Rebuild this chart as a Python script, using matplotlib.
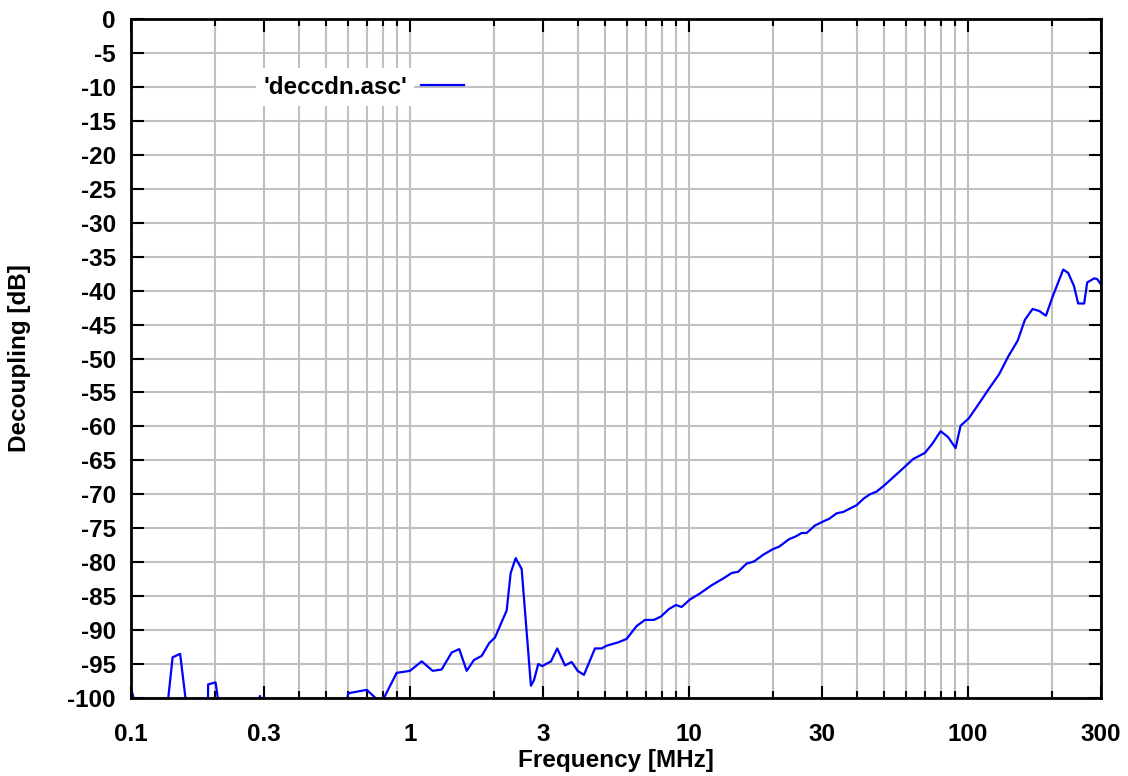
import matplotlib
matplotlib.use("Agg")
import matplotlib.pyplot as plt
from matplotlib.ticker import FixedLocator, NullFormatter, FixedFormatter

plt.rcParams['font.family'] = ['Liberation Sans', 'DejaVu Sans']

freq_mhz = [0.1, 0.108, 0.117, 0.132, 0.141, 0.150, 0.160, 0.174, 0.188, 0.189,
            0.201, 0.208, 0.246, 0.281, 0.290, 0.300, 0.403, 0.580, 0.601, 0.700,
            0.762, 0.804, 0.896, 1.0, 1.102, 1.206, 1.299, 1.411, 1.502, 1.597,
            1.696, 1.807, 1.924, 2.017, 2.132, 2.222, 2.296, 2.393, 2.514, 2.714,
            2.782, 2.883, 2.980, 3.203, 3.373, 3.594, 3.798, 3.991, 4.204, 4.604,
            4.865, 5.070, 5.580, 5.979, 6.494, 6.957, 7.492, 7.935, 8.479, 8.982,
            9.415, 10.08, 10.95, 12.06, 13.27, 14.22, 15.02, 16.10, 17.10, 18.47,
            19.95, 21.07, 22.88, 24.18, 25.35, 26.42, 28.29, 30.30, 31.84, 33.84,
            35.73, 37.77, 39.92, 42.39, 44.54, 47.08, 50.42, 57.06, 63.68, 70.15,
            74.73, 79.85, 85.01, 90.34, 94.14, 100.8, 108.9, 118.3, 129.5, 139.5,
            150.7, 160.1, 170.6, 180.1, 190.4, 201.2, 219.6, 228.8, 239.9, 248.5,
            261.1, 267.7, 283.6, 290.7, 300.0]
decoupling_db = [-98.5, -104, -110, -105, -94.0, -93.5, -103, -110, -110, -98.0,
                 -97.7, -102, -110, -102, -99.7, -102, -110, -103, -99.3, -98.8,
                 -100.2, -100.1, -96.3, -96.0, -94.6, -96.0, -95.8, -93.3, -92.8, -96.0,
                 -94.4, -93.8, -91.9, -91.1, -88.8, -87.1, -81.6, -79.4, -81.0, -98.2,
                 -97.4, -95.0, -95.3, -94.6, -92.7, -95.2, -94.7, -96.0, -96.6, -92.7,
                 -92.7, -92.3, -91.8, -91.3, -89.4, -88.5, -88.5, -88.0, -86.9, -86.3,
                 -86.6, -85.5, -84.6, -83.4, -82.4, -81.6, -81.4, -80.2, -79.9, -78.9,
                 -78.1, -77.7, -76.6, -76.2, -75.7, -75.7, -74.6, -74.0, -73.6, -72.8,
                 -72.6, -72.1, -71.6, -70.6, -70.0, -69.6, -68.6, -66.6, -64.8, -63.9,
                 -62.5, -60.7, -61.6, -63.2, -59.9, -58.8, -56.8, -54.6, -52.3, -49.7,
                 -47.4, -44.3, -42.7, -43.0, -43.7, -40.9, -36.9, -37.4, -39.3, -41.9,
                 -41.9, -38.8, -38.2, -38.3, -39.1]

series_label = "'deccdn.asc'"
x_major = [0.1, 0.3, 1, 3, 10, 30, 100, 300]
x_major_labels = ['0.1', '0.3', '1', '3', '10', '30', '100', '300']
y_ticks = list(range(-100, 1, 5))

FS = 17.5

fig = plt.figure(figsize=(11.28, 7.76), dpi=100)
ax = fig.add_axes([131/1128, 1-698/776, (1101-131)/1128, (698-19)/776])

ax.set_xscale('log')
ax.set_xlim(0.1, 300)
ax.set_ylim(-100, 0)

grid_x = []
for dec in [0.1, 1, 10, 100]:
    for m in range(1, 10):
        v = round(dec * m, 6)
        if 0.1 <= v <= 300:
            grid_x.append(v)
minor_x = [v for v in grid_x if all(abs(v - M) > 1e-9 for M in x_major)]

ax.xaxis.set_major_locator(FixedLocator(x_major))
ax.xaxis.set_major_formatter(FixedFormatter(x_major_labels))
ax.xaxis.set_minor_locator(FixedLocator(minor_x))
ax.xaxis.set_minor_formatter(NullFormatter())
ax.yaxis.set_major_locator(FixedLocator(y_ticks))
ax.set_yticklabels([str(v) for v in y_ticks])

ax.grid(True, which='both', axis='x', color='#c0c0c0', linewidth=1.5)
ax.grid(True, which='major', axis='y', color='#c0c0c0', linewidth=1.5)
ax.set_axisbelow(True)

ax.tick_params(axis='both', which='major', direction='in', length=9, width=1.5,
               top=True, right=True, labelsize=FS)
ax.tick_params(axis='y', which='major', pad=11)
ax.tick_params(axis='x', which='major', pad=18)
ax.tick_params(axis='x', which='minor', direction='in', length=5, width=1.5,
               top=True, bottom=True)
for lbl in ax.get_xticklabels() + ax.get_yticklabels():
    lbl.set_fontweight('bold')

for s in ax.spines.values():
    s.set_linewidth(2)
    s.set_color('black')

ax.plot(freq_mhz, decoupling_db, color='#0000ff', linewidth=1.6, label=series_label)

ax.set_xlabel('Frequency [MHz]', fontsize=FS, fontweight='bold', labelpad=2)
ax.set_ylabel('Decoupling [dB]', fontsize=FS, fontweight='bold', labelpad=26)

leg = ax.legend(loc='center', bbox_to_anchor=(363.5/1128, 1-87/776),
                bbox_transform=fig.transFigure, frameon=False, markerfirst=False,
                handlelength=1.75, handletextpad=0.6, borderpad=0,
                prop={'size': FS, 'weight': 'bold'})
for t in leg.get_texts():
    t.set_bbox(dict(facecolor='white', edgecolor='none', pad=5))

fig.savefig('out.png', dpi=100)
